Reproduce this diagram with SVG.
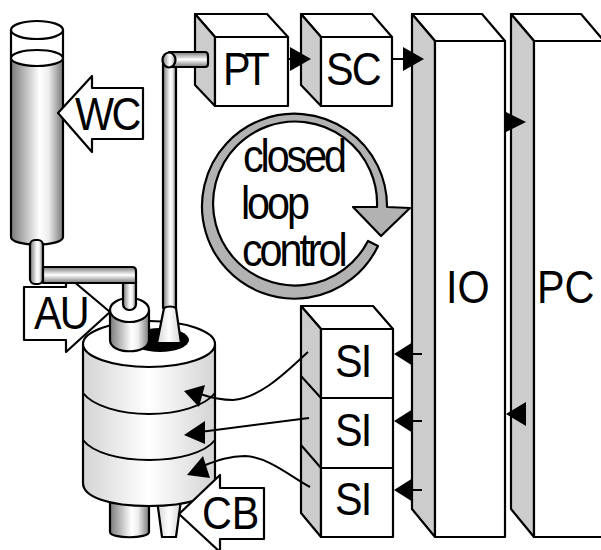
<svg xmlns="http://www.w3.org/2000/svg" width="601" height="550" viewBox="0 0 601 550">
<style>
.o{stroke:#000;stroke-width:2.200;stroke-linejoin:round}
.w{fill:#fff}
.s{fill:#ccc}
.t{font-family:"Liberation Sans",Arial,sans-serif;font-size:47px;fill:#000}
.c{fill:none;stroke:#000;stroke-width:2}
.h{fill:#000;stroke:none}
</style>
<defs>
<linearGradient id="gd" x1="0" x2="1" y1="0" y2="0"><stop offset="0" stop-color="#7a7a7a"/><stop offset=".55" stop-color="#fff"/><stop offset=".72" stop-color="#eee"/><stop offset="1" stop-color="#7a7a7a"/></linearGradient>
<linearGradient id="gl" x1="0" x2="1" y1="0" y2="0"><stop offset="0" stop-color="#d4d4d4"/><stop offset=".5" stop-color="#fff"/><stop offset="1" stop-color="#d4d4d4"/></linearGradient>
<linearGradient id="gh" x1="0" x2="0" y1="0" y2="1"><stop offset="0" stop-color="#777"/><stop offset=".5" stop-color="#fff"/><stop offset="1" stop-color="#777"/></linearGradient>
</defs>

<g id="PT">
<path class="o w" d="M195 14H267L288 37H215Z"/>
<path class="o s" d="M195 14L215 37V106L195 85Z"/>
<rect class="o w" x="215" y="37" width="73" height="69"/>
<text class="t" transform="translate(223 85) scale(.88 1)" letter-spacing="-7">PT</text>
</g>
<g id="SC">
<path class="o w" d="M301 14H372L392 37H321Z"/>
<path class="o s" d="M301 14L321 37V106L301 85Z"/>
<rect class="o w" x="321" y="37" width="71" height="69"/>
<text class="t" transform="translate(326 85) scale(.88 1)" letter-spacing="-2">SC</text>
</g>
<g id="IO">
<path class="o w" d="M412 14H482L505 41H435Z"/>
<path class="o s" d="M412 14L435 41V537L412 509Z"/>
<rect class="o w" x="435" y="41" width="70" height="496"/>
<text class="t" transform="translate(446 303) scale(.88 1)">IO</text>
</g>
<g id="PC">
<path class="o w" d="M511 14H581L604 41H534Z"/>
<path class="o s" d="M511 14L534 41V537L511 509Z"/>
<rect class="o w" x="534" y="41" width="72" height="496"/>
<text class="t" transform="translate(537 303) scale(.88 1)">PC</text>
</g>
<g id="SI-stack">
<path class="o w" d="M301 306H373L393 329H321Z"/>
<path class="o s" d="M301 306L321 329V537L301 513Z"/>
<path class="c" d="M301 376L321 398M301 445L321 468"/>
<rect class="o w" x="321" y="329" width="72" height="69"/>
<rect class="o w" x="321" y="398" width="72" height="70"/>
<rect class="o w" x="321" y="468" width="72" height="69"/>
<text class="t" transform="translate(335 377) scale(.88 1)" letter-spacing="-2">SI</text>
<text class="t" transform="translate(335 446) scale(.88 1)" letter-spacing="-2">SI</text>
<text class="t" transform="translate(335 515) scale(.88 1)" letter-spacing="-2">SI</text>
</g>

<g id="tank">
<path class="o w" d="M11 30V58H63V30Z"/>
<path class="o" fill="url(#gd)" d="M11 58V237C11 247 63 247 63 237V58Z"/>
<ellipse class="o w" cx="37" cy="30" rx="26" ry="9"/>
<ellipse class="o w" cx="37" cy="58" rx="26" ry="8"/>
</g>
<g id="WC">
<path class="o w" d="M58 113L92 76V88H143V139H92V152Z"/>
<text class="t" transform="translate(75 130) scale(.88 1)" letter-spacing="-3">WC</text>
</g>

<g id="reactor">
<path class="o" fill="url(#gd)" d="M110 500V532C110 539 149 539 149 532V500Z"/>
<path class="o" fill="url(#gl)" d="M157 500L162 537H176L181 500Z"/>
<path class="o" fill="url(#gl)" d="M83 344V483C83 497 109 506 149 506C189 506 215 497 215 483V344Z"/>
<ellipse class="o w" cx="149" cy="344" rx="66" ry="23"/>
<path class="c" d="M83 393C93 406 120 414 149 414C178 414 205 406 215 393M83 440C93 453 120 460 149 460C178 460 205 453 215 440"/>
<ellipse cx="160" cy="340" rx="29" ry="12" fill="#000"/>
</g>
<g id="AU">
<path class="o w" d="M110 312L66 275V287H24V340H66V352Z"/>
<text class="t" transform="translate(34 329) scale(.88 1)" letter-spacing="-2">AU</text>
</g>
<g id="pipes">
<rect class="o" fill="url(#gd)" x="30" y="240" width="13" height="44" rx="5"/>
<path class="o" fill="url(#gd)" d="M110 310V340C110 355 149 355 149 340V310Z"/>
<ellipse class="o w" cx="129.500" cy="310" rx="19.500" ry="12"/>
<rect class="o" fill="url(#gd)" x="123" y="275" width="13" height="35" rx="6"/>
<path class="o" fill="url(#gh)" d="M43 267H132Q136 267 136 271V283H43Z"/>
<path class="o" fill="url(#gd)" d="M163 60H176V308H163Z"/>
<path class="o" fill="url(#gh)" d="M169 52H205Q208 52 208 56V64Q208 67 205 67H169Z"/>
<ellipse class="o" fill="url(#gd)" cx="169" cy="60" rx="6.500" ry="7.500"/>
<path class="o" fill="url(#gl)" d="M164 308C167 306 173 306 176 308L181 343H157Z"/>
</g>
<g id="CB">
<path class="o w" d="M179 514L220 475V488H264V539H220V552Z"/>
<text class="t" transform="translate(202 529) scale(.88 1)">CB</text>
</g>

<g id="loop">
<path fill="#b2b2b2" class="o" d="M368 241A82 82 0 1 1 377 207L353 207L381 236L410 208L387 207A92.500 92.500 0 1 0 378 246Z"/>
<text class="t" transform="translate(243 172) scale(.88 1)" letter-spacing="-3.500">closed</text>
<text class="t" transform="translate(241 219) scale(.88 1)" letter-spacing="-3.500">loop</text>
<text class="t" transform="translate(242 266) scale(.88 1)" letter-spacing="-3.500">control</text>
</g>

<g id="connectors">
<path class="c" d="M288 59H292M392 59H404"/>
<path class="h" d="M290 47L311 59L290 71ZM403 47L424 59L403 71ZM504 111L526 122L504 133ZM506 414L526 402V426Z"/>
<path class="c" d="M411 354H422M411 421H422M411 490H422"/>
<path class="h" d="M394 354L413 342V366ZM394 421L413 409V433ZM394 490L413 478V502Z"/>
<path class="c" d="M308 352C290 368 262 398 233 400C222 400 212 398 200 394"/>
<path class="h" d="M184 391L205 385L199 407Z"/>
<path class="c" d="M309 418L200 432"/>
<path class="h" d="M184 435L205 421V444Z"/>
<path class="c" d="M310 487C290 476 268 457 245 456C230 456 218 460 203 466"/>
<path class="h" d="M187 475L203 456L210 478Z"/>
</g>
</svg>
